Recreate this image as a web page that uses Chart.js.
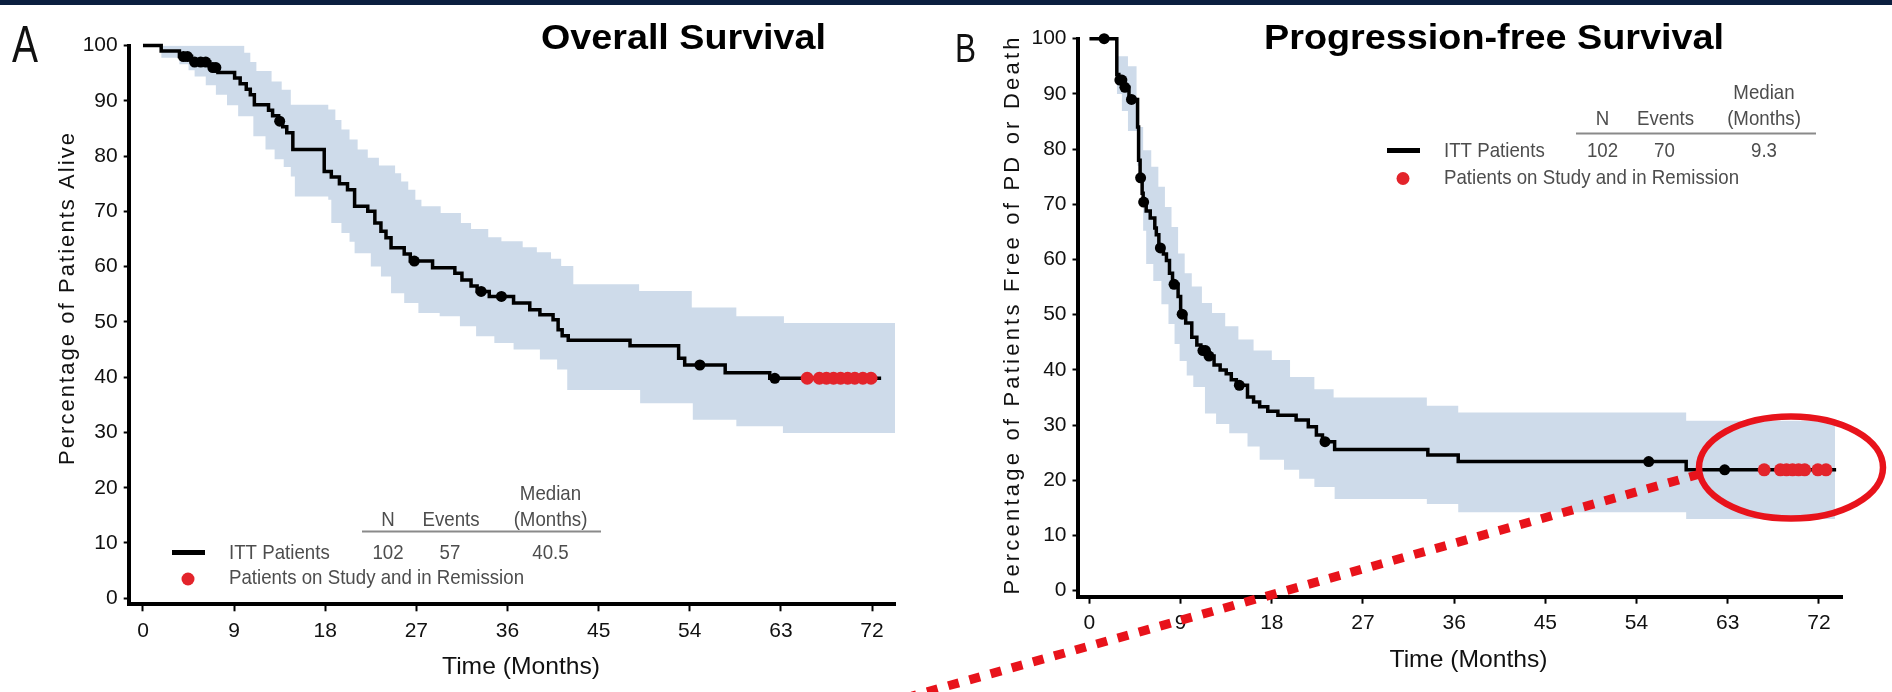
<!DOCTYPE html>
<html>
<head>
<meta charset="utf-8">
<script src="https://cdn.jsdelivr.net/npm/chart.js@4.4.1/dist/chart.umd.min.js"></script>
<style>
  html, body { margin: 0; padding: 0; background: #fff; }
  #wrap { position: relative; width: 1892px; height: 692px; overflow: hidden; background: #fff; }
  #topbar { position: absolute; left: 0; top: 0; width: 1892px; height: 5px; background: #0b1f3f; }
  canvas { position: absolute; left: 0; top: 0; }
</style>
</head>
<body>
<div id="wrap">
  <canvas id="chartA" width="1892" height="692"></canvas>
  <canvas id="chartB" width="1892" height="692"></canvas>
  <div id="topbar"></div>
</div>
<script>
// tick labels
const timeTicks = [0, 9, 18, 27, 36, 45, 54, 63, 72];
const percentTicks = [0, 10, 20, 30, 40, 50, 60, 70, 80, 90, 100];

// overall survival, [month, percent]
const osCurve = [[0,100],[1.8,99.0],[3.6,98.0],[4.8,97.0],[6.6,96.0],[7.4,95.1],[9.05,94.1],[9.6,93.1],[10.2,92.1],[10.6,91.1],[11.0,89.3],[12.4,88.3],[12.8,87.3],[13.4,86.3],[13.8,85.3],[14.2,84.2],[14.8,81.2],[17.9,77.2],[18.6,76.2],[19.4,75.0],[20.2,73.9],[20.9,70.9],[22.2,70.0],[22.9,67.9],[23.5,66.4],[24.0,65.2],[24.5,63.4],[25.8,62.3],[26.4,61.0],[28.6,59.8],[30.8,58.8],[31.5,57.6],[32.4,56.5],[33.0,55.5],[34.2,54.6],[36.6,53.4],[38.2,52.2],[39.2,51.3],[40.5,50.4],[41.0,48.6],[41.4,47.5],[42.0,46.7],[48.1,45.7],[52.9,43.4],[53.5,42.2],[57.5,40.8],[61.9,39.8],[72.9,39.8]];
const osUpper = [[1.8,100],[10.0,98.7],[10.6,97.0],[11.2,95.4],[12.7,93.5],[13.7,92.0],[14.6,89.3],[18.3,88.4],[19.0,86.5],[19.6,84.8],[20.4,83.0],[21.2,81.2],[22.2,79.7],[23.3,78.3],[24.9,76.9],[25.5,75.4],[26.2,73.9],[26.9,72.1],[27.5,70.9],[29.4,69.7],[31.4,67.9],[32.4,66.8],[34.1,65.3],[35.4,64.6],[37.5,63.5],[38.9,62.6],[40.3,61.4],[41.3,60.1],[42.5,56.8],[49.0,55.6],[54.2,52.6],[58.6,51.0],[63.3,49.8],[74.3,49.8]];
const osLower = [[1.8,97.8],[3.6,96.6],[4.5,95.5],[5.1,94.4],[6.2,92.8],[7.2,91.1],[8.3,89.2],[9.4,87.2],[10.9,83.6],[12.1,81.2],[13.0,79.4],[13.9,78.0],[14.6,76.3],[15.0,72.7],[18.3,72.1],[18.6,67.9],[19.6,66.1],[20.4,64.5],[20.9,62.4],[22.5,60.0],[23.5,58.2],[24.5,55.2],[25.8,53.4],[27.2,51.6],[29.3,51.0],[31.3,49.2],[32.9,47.4],[34.7,46.2],[36.6,45.0],[39.2,43.2],[40.9,41.4],[41.9,37.7],[49.1,35.3],[54.3,32.3],[58.6,31.1],[63.2,29.9],[74.3,29.9]];
const osCensored = [[4.0,98.0],[4.4,98.0],[5.1,97.0],[5.7,97.0],[6.2,97.0],[6.9,96.0],[7.2,96.0],[13.5,86.3],[26.8,61.0],[33.4,55.5],[35.4,54.6],[55.0,42.2],[62.4,39.8]];
const osRemission = [[65.6,39.8],[66.8,39.8],[67.5,39.8],[68.2,39.8],[68.9,39.8],[69.6,39.8],[70.3,39.8],[71.1,39.8],[71.9,39.8]];
const osSummary = ['102', '57', '40.5'];

// progression-free survival, [month, percent]
const pfsCurve = [[0,100],[2.7,93.5],[2.9,92.5],[3.3,91.2],[3.9,89.0],[4.75,84.0],[4.85,78.0],[5.0,74.8],[5.2,72.0],[5.3,70.4],[5.6,68.8],[6.0,67.5],[6.45,65.7],[6.6,64.5],[6.85,62.1],[7.3,61.0],[7.6,59.8],[7.9,57.5],[8.2,55.5],[8.75,53.3],[9.0,50.1],[9.5,48.5],[10.1,45.9],[10.6,44.5],[11.0,43.5],[11.6,42.5],[12.3,40.9],[12.9,40.0],[13.5,39.3],[14.0,38.2],[14.5,37.2],[15.6,35.1],[16.2,34.2],[16.8,33.3],[17.6,32.5],[18.6,31.8],[20.4,30.9],[21.6,29.7],[22.4,28.2],[23.0,27.0],[24.2,25.6],[33.4,24.6],[36.4,23.4],[58.9,21.9],[73.7,21.9]];
const pfsUpper = [[2.7,96.8],[3.8,95.0],[4.65,89.3],[4.9,84.0],[5.3,79.8],[6.1,76.8],[6.8,73.2],[7.45,69.5],[8.1,65.9],[8.75,61.1],[9.4,57.5],[10.1,55.1],[11.1,52.1],[12.1,50.3],[13.4,47.9],[14.7,45.5],[16.2,43.5],[18.0,41.8],[19.8,38.7],[22.2,36.5],[24.1,35.0],[33.3,33.5],[36.4,32.3],[58.9,30.8],[73.6,30.8]];
const pfsLower = [[2.7,90.0],[3.2,86.9],[3.8,83.3],[4.75,77.0],[5.1,71.9],[5.3,65.2],[5.6,59.2],[6.3,56.1],[7.1,51.9],[7.8,48.3],[8.4,44.7],[8.9,41.6],[9.6,39.0],[10.25,36.9],[11.4,32.1],[12.5,30.2],[13.8,28.5],[15.6,26.1],[16.8,23.7],[19.2,21.9],[20.7,20.3],[22.2,18.8],[24.2,16.6],[33.3,15.7],[36.4,14.2],[58.9,13.0],[73.6,13.0]];
const pfsCensored = [[1.45,100],[3.0,92.5],[3.2,92.5],[3.5,91.2],[4.15,89.0],[5.05,74.8],[5.35,70.4],[7.0,62.1],[8.35,55.5],[9.15,50.1],[11.2,43.5],[11.45,43.5],[11.8,42.5],[14.8,37.2],[23.25,27.0],[55.2,23.4],[62.7,21.9]];
const pfsRemission = [[66.6,21.9],[68.2,21.9],[68.8,21.9],[69.4,21.9],[70.0,21.9],[70.6,21.9],[71.9,21.9],[72.7,21.9]];
const pfsSummary = ['102', '70', '9.3'];

const FONT = '"Liberation Sans", Arial, sans-serif';
const BAND = 'rgb(206,219,234)';
const RED = '#e3242b';
const MARK_RED = '#e8131b';

const toXY = (arr) => arr.map((p) => ({ x: p[0], y: p[1] }));

// text helpers
function text(ctx, s, x, y, o) {
  ctx.save();
  ctx.font = o.font;
  ctx.fillStyle = o.color || "#000";
  ctx.textBaseline = "alphabetic";
  ctx.textAlign = "left";
  const w = ctx.measureText(s).width;
  const sx = o.width ? o.width / w : o.sx || 1;
  let left = x;
  if (o.align == "center") left = x - (w * sx) / 2;
  if (o.align == "right") left = x - w * sx;
  ctx.translate(left, y);
  ctx.scale(sx, 1);
  ctx.fillText(s, 0, 0);
  ctx.restore();
}

function verticalText(ctx, s, baseX, centerY, len, font) {
  ctx.save();
  ctx.font = font;
  ctx.fillStyle = "#111";
  ctx.textBaseline = "alphabetic";
  ctx.textAlign = "left";
  ctx.translate(baseX, centerY);
  ctx.rotate(-Math.PI / 2);
  const w0 = ctx.measureText(s).width;
  if ("letterSpacing" in ctx) {
    ctx.letterSpacing = (len - w0) / (s.length - 1) + "px";
    ctx.fillText(s, -len / 2, 0);
  } else {
    ctx.scale(len / w0, 1);
    ctx.fillText(s, -w0 / 2, 0);
  }
  ctx.restore();
}

function drawLegend(ctx, L, values) {
  const f = "21px " + FONT;
  const grey = "#4d4d4d";
  const sx = 0.89;
  text(ctx, "Median", L.colMedian, L.medianY, { font: f, color: grey, sx: sx, align: "center" });
  text(ctx, "N", L.colN, L.headY, { font: f, color: grey, sx: sx, align: "center" });
  text(ctx, "Events", L.colEvents, L.headY, { font: f, color: grey, sx: sx, align: "center" });
  text(ctx, "(Months)", L.colMedian, L.headY, { font: f, color: grey, sx: sx, align: "center" });

  ctx.save();
  ctx.strokeStyle = "#8a8a8a";
  ctx.lineWidth = 2;
  ctx.beginPath();
  ctx.moveTo(L.ruleX1, L.ruleY);
  ctx.lineTo(L.ruleX2, L.ruleY);
  ctx.stroke();

  ctx.strokeStyle = "#000";
  ctx.lineWidth = 5;
  ctx.beginPath();
  ctx.moveTo(L.textX - 57, L.row1Y - 6);
  ctx.lineTo(L.textX - 24, L.row1Y - 6);
  ctx.stroke();

  ctx.fillStyle = RED;
  ctx.beginPath();
  ctx.arc(L.textX - 41, L.row2Y - 5, 6.5, 0, Math.PI * 2);
  ctx.fill();
  ctx.restore();

  text(ctx, "ITT Patients", L.textX, L.row1Y, { font: f, color: grey, sx: sx });
  text(ctx, values[0], L.colN, L.row1Y, { font: f, color: grey, sx: sx, align: "center" });
  text(ctx, values[1], L.colEvents - 1, L.row1Y, { font: f, color: grey, sx: sx, align: "center" });
  text(ctx, values[2], L.colMedian, L.row1Y, { font: f, color: grey, sx: sx, align: "center" });
  text(ctx, "Patients on Study and in Remission", L.textX, L.row2Y, { font: f, color: grey, sx: sx });
}

function survivalChart(id, p) {
  return new Chart(document.getElementById(id), {
    type: "scatter",
    data: {
      datasets: [
        {
          data: toXY(p.upper),
          showLine: true,
          stepped: true,
          fill: "+1",
          backgroundColor: BAND,
          borderColor: "rgba(0,0,0,0)",
          pointRadius: 0,
          order: 10,
        },
        {
          data: toXY(p.lower),
          showLine: true,
          stepped: true,
          fill: false,
          borderColor: "rgba(0,0,0,0)",
          pointRadius: 0,
          order: 9,
        },
        {
          data: toXY(p.curve),
          showLine: true,
          stepped: true,
          borderColor: "#000",
          borderWidth: 3.5,
          pointRadius: 0,
          clip: false,
          order: 5,
        },
        {
          data: toXY(p.censored),
          showLine: false,
          pointRadius: 5.5,
          backgroundColor: "#000",
          borderWidth: 0,
          clip: false,
          order: 2,
        },
        {
          data: toXY(p.remission),
          showLine: false,
          pointRadius: 6.5,
          backgroundColor: RED,
          borderWidth: 0,
          clip: false,
          order: 1,
        },
      ],
    },
    options: {
      responsive: false,
      animation: false,
      devicePixelRatio: 1,
      layout: { padding: p.padding },
      plugins: { legend: { display: false }, tooltip: { enabled: false } },
      scales: {
        x: {
          type: "linear",
          min: p.xMin,
          max: p.xMax,
          afterBuildTicks: (s) => {
            s.ticks = timeTicks.map((v) => ({ value: v }));
          },
          afterFit: (s) => {
            s.height = 60;
            s.paddingLeft = 0;
            s.paddingRight = 0;
          },
          grid: { drawOnChartArea: false, tickLength: 7, tickWidth: 2, tickColor: "#000" },
          border: { color: "#000", width: 4 },
          ticks: { color: "#111", font: { family: FONT, size: 21 }, padding: 7, maxRotation: 0, autoSkip: false },
        },
        y: {
          type: "linear",
          min: p.yMin,
          max: 100,
          afterBuildTicks: (s) => {
            s.ticks = percentTicks.map((v) => ({ value: v }));
          },
          afterFit: (s) => {
            s.width = 128;
            s.paddingTop = 0;
            s.paddingBottom = 0;
          },
          grid: { drawOnChartArea: false, tickLength: 5, tickWidth: 2, tickColor: "#000" },
          border: { color: "#000", width: 4 },
          ticks: { color: "#111", font: { family: FONT, size: 21 }, padding: 6, autoSkip: false },
        },
      },
    },
    plugins: [{ id: "panelText", afterDraw: (chart) => p.draw(chart.ctx) }],
  });
}

// panel A: plot area 128.7..895 x 45.5..604.3
survivalChart("chartA", {
  curve: osCurve,
  upper: osUpper,
  lower: osLower,
  censored: osCensored,
  remission: osRemission,
  xMin: -1.41,
  xMax: 74.27,
  yMin: -1.09,
  padding: { left: 0.7, top: 45.5, right: 997, bottom: 27.7 },
  draw: (ctx) => {
    text(ctx, "A", 12, 62, { font: "52px " + FONT, width: 26, color: "#111" });
    text(ctx, "Overall Survival", 541, 49, { font: "bold 35px " + FONT, width: 285 });
    verticalText(ctx, "Percentage of Patients Alive", 73.5, 299, 332, "22px " + FONT);
    text(ctx, "Time (Months)", 521, 674, { font: "24px " + FONT, width: 158, align: "center", color: "#111" });
    drawLegend(
      ctx,
      { textX: 229, row1Y: 558.5, row2Y: 584, headY: 525.5, medianY: 499.5, colN: 388, colEvents: 451, colMedian: 550.5, ruleX1: 362, ruleX2: 601, ruleY: 531.5 },
      osSummary
    );
  },
});

// panel B: plot area 1077.5..1842 x 38.7..596.7
survivalChart("chartB", {
  curve: pfsCurve,
  upper: pfsUpper,
  lower: pfsLower,
  censored: pfsCensored,
  remission: pfsRemission,
  xMin: -1.18,
  xMax: 74.28,
  yMin: -1.09,
  padding: { left: 949.5, top: 38.7, right: 50, bottom: 35.3 },
  draw: (ctx) => {
    text(ctx, "B", 955, 62, { font: "40px " + FONT, width: 21, color: "#111" });
    text(ctx, "Progression-free Survival", 1264, 49, { font: "bold 35px " + FONT, width: 460 });
    verticalText(ctx, "Percentage of Patients Free of PD or Death", 1019, 316, 557, "22px " + FONT);
    text(ctx, "Time (Months)", 1468.5, 666.5, { font: "24px " + FONT, width: 158, align: "center", color: "#111" });
    drawLegend(
      ctx,
      { textX: 1444, row1Y: 156.5, row2Y: 183.5, headY: 124.5, medianY: 99, colN: 1602.5, colEvents: 1665.5, colMedian: 1764, ruleX1: 1576, ruleX2: 1816, ruleY: 133.5 },
      pfsSummary
    );

    // red call-out: ellipse round the remission marks and a dotted pointer
    ctx.save();
    ctx.strokeStyle = MARK_RED;
    ctx.lineWidth = 6.5;
    ctx.beginPath();
    ctx.ellipse(1791, 467.5, 92, 51, 0, 0, Math.PI * 2);
    ctx.stroke();
    ctx.lineWidth = 9;
    ctx.setLineDash([11, 11]);
    ctx.beginPath();
    ctx.moveTo(1700, 474);
    ctx.lineTo(912, 696);
    ctx.stroke();
    ctx.restore();
  },
});
</script>
</body>
</html>
